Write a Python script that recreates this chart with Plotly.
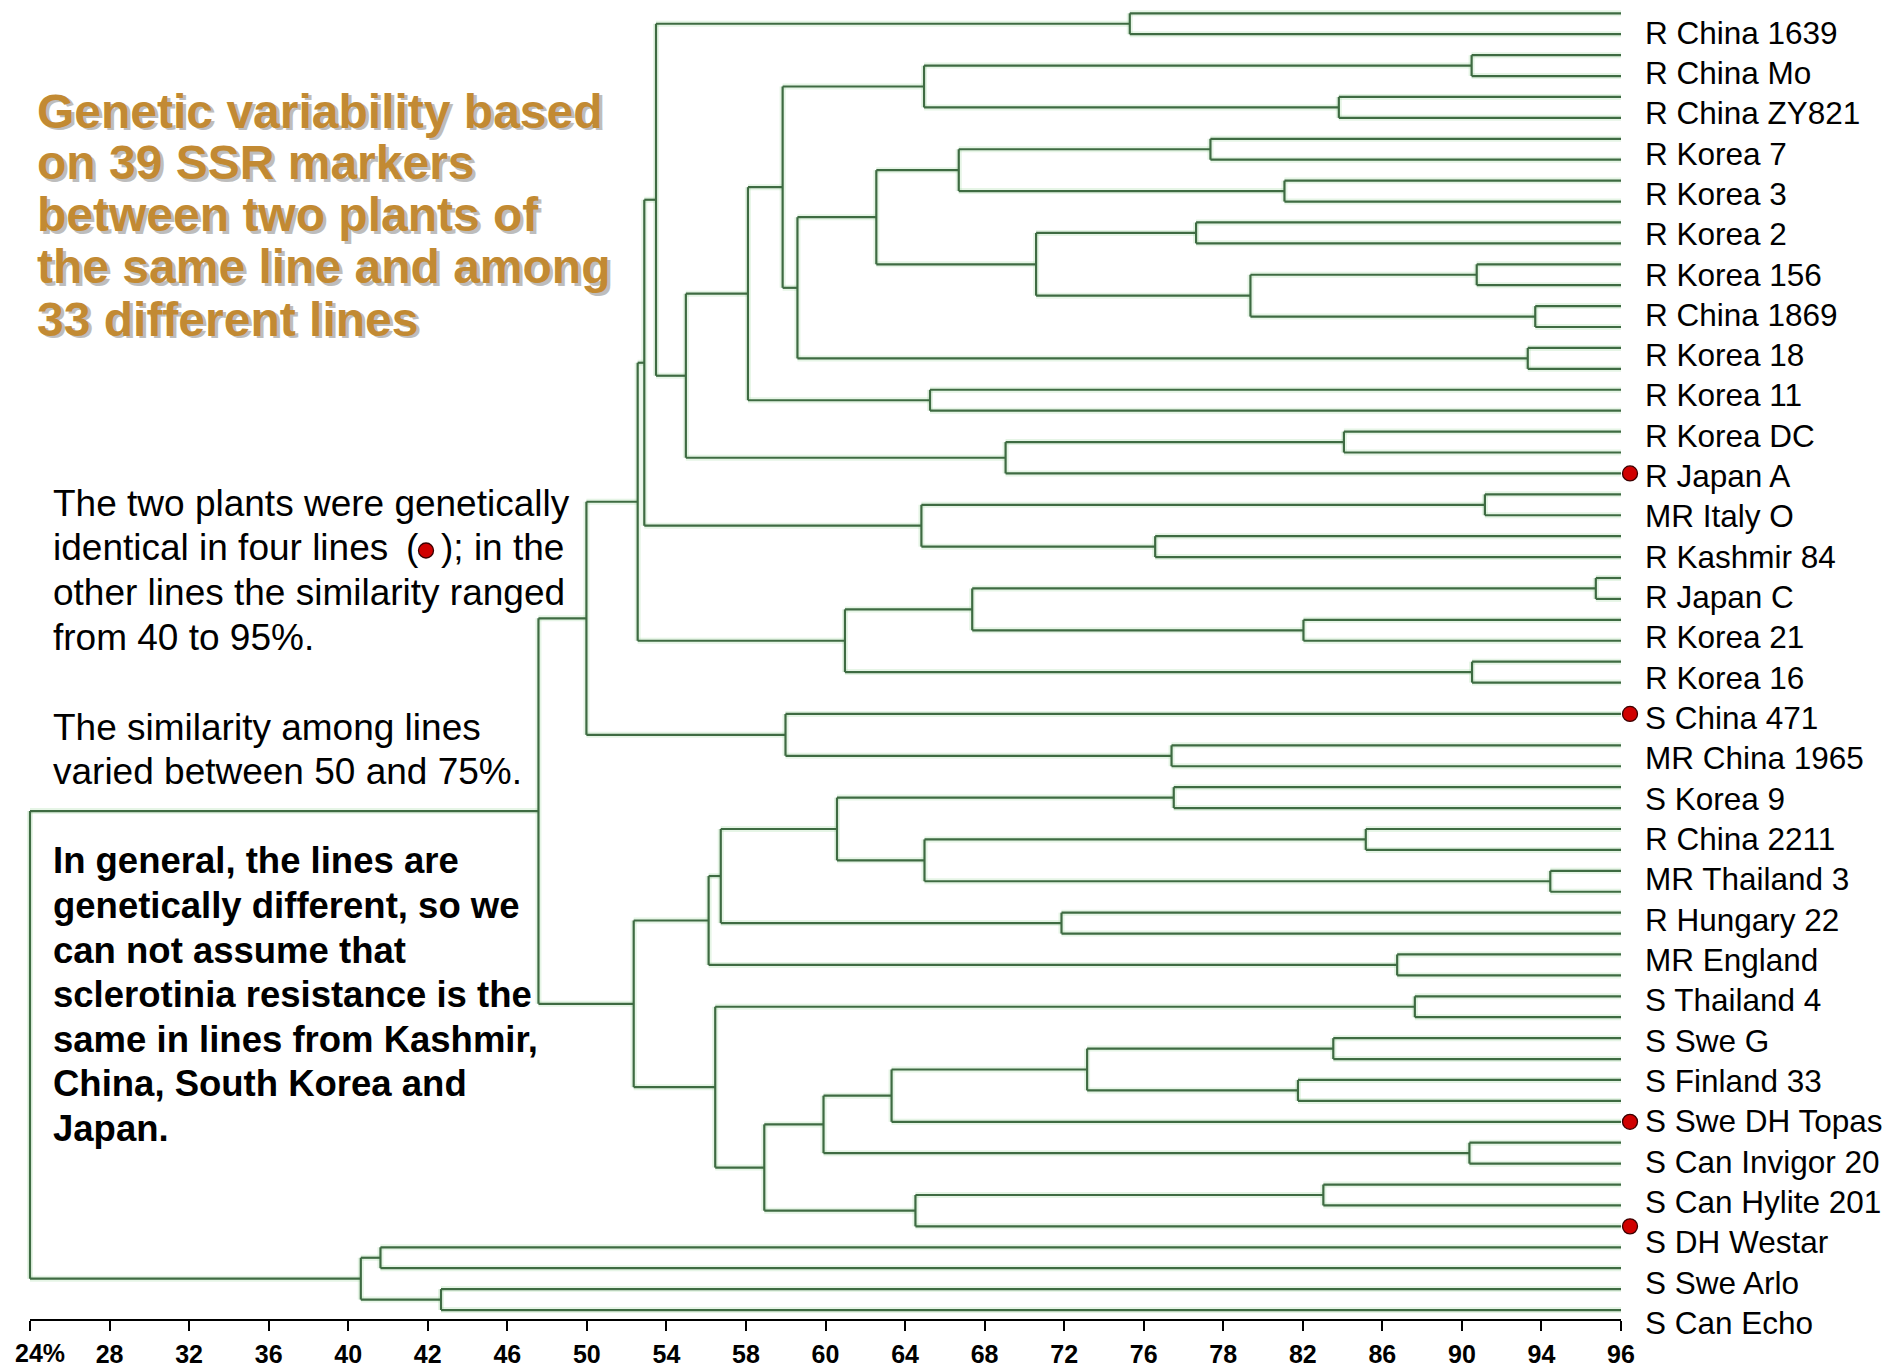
import plotly.graph_objects as go

W, H = 1893, 1369

# ---------------- data ----------------
line_names = [
    "R China 1639", "R China Mo", "R China ZY821", "R Korea 7", "R Korea 3",
    "R Korea 2", "R Korea 156", "R China 1869", "R Korea 18", "R Korea 11",
    "R Korea DC", "R Japan A", "MR Italy O", "R Kashmir 84", "R Japan C",
    "R Korea 21", "R Korea 16", "S China 471", "MR China 1965", "S Korea 9",
    "R China 2211", "MR Thailand 3", "R Hungary 22", "MR England", "S Thailand 4",
    "S Swe G", "S Finland 33", "S Swe DH Topas", "S Can Invigor 20",
    "S Can Hylite 201", "S DH Westar", "S Swe Arlo", "S Can Echo",
]
# similarity between the two plants of a line (None = genetically identical)
pair_similarity = [
    73.77, 89.24, 83.23, 77.42, 80.77,
    76.77, 89.47, 92.12, 91.78, 64.73,
    83.46, None, 89.84, 74.92, 94.86,
    81.63, 89.26, None, 75.66, 75.76,
    84.45, 92.80, 70.68, 85.87, 86.67,
    82.98, 81.38, None, 89.14,
    82.53, None, 39.86, 42.60,
]
# number of leaf rows each line takes in the tree
leaf_rows = [
    2, 2, 2, 2, 2,
    2, 2, 2, 2, 2,
    2, 1, 2, 2, 2,
    2, 2, 2, 2, 2,
    2, 2, 2, 2, 2,
    2, 2, 1, 2,
    2, 1, 2, 2,
]
# clusters among lines: (child A, child B, similarity); ints refer to earlier clusters
merges = [
    ("R China Mo", "R China ZY821", 64.46),      # 0
    ("R Korea 7", "R Korea 3", 66.03),           # 1
    ("R Korea 156", "R China 1869", 79.23),      # 2
    ("R Korea 2", 2, 69.53),                     # 3
    (1, 3, 62.30),                               # 4
    (4, "R Korea 18", 58.73),                    # 5
    (0, 5, 58.06),                               # 6
    (6, "R Korea 11", 56.49),                    # 7
    ("R Korea DC", "R Japan A", 68.15),          # 8
    (7, 8, 53.68),                               # 9
    ("R China 1639", 9, 52.33),                  # 10
    ("MR Italy O", "R Kashmir 84", 64.34),       # 11
    (10, 11, 51.80),                             # 12
    ("R Japan C", "R Korea 21", 66.64),          # 13
    (13, "R Korea 16", 60.88),                   # 14
    (12, 14, 51.50),                             # 15
    ("S China 471", "MR China 1965", 58.19),     # 16
    (15, 16, 49.18),                             # 17
    ("R China 2211", "MR Thailand 3", 64.48),    # 18
    ("S Korea 9", 18, 60.52),                    # 19
    (19, "R Hungary 22", 55.26),                 # 20
    (20, "MR England", 54.71),                   # 21
    ("S Swe G", "S Finland 33", 71.84),          # 22
    (22, "S Swe DH Topas", 62.99),               # 23
    (23, "S Can Invigor 20", 59.91),             # 24
    ("S Can Hylite 201", "S DH Westar", 64.07),  # 25
    (24, 25, 57.23),                             # 26
    ("S Thailand 4", 26, 55.01),                 # 27
    (21, 27, 51.32),                             # 28
    (17, 28, 47.01),                             # 29
    ("S Swe Arlo", "S Can Echo", 38.97),         # 30
    (29, 30, 24.00),                             # 31
]
tick_values = [24, 27.6, 31.2, 34.8, 38.4, 42, 45.6, 49.2, 52.8, 56.4, 60,
               63.6, 67.2, 70.8, 74.4, 78, 81.6, 85.2, 88.8, 92.4, 96]
tick_labels = ["24%", "28", "32", "36", "40", "42", "46", "50", "54", "58", "60",
               "64", "68", "72", "76", "78", "82", "86", "90", "94", "96"]
X_MIN, X_MAX = 24, 96

title_lines = ["Genetic variability based", "on 39 SSR markers",
               "between two plants of", "the same line and among",
               "33 different lines"]
note1_lines = ["The two plants were genetically", None,
               "other lines the similarity ranged", "from 40 to 95%."]
note2_lines = ["The similarity among lines", "varied between 50 and 75%."]
note3_lines = ["In general, the lines are", "genetically different, so we",
               "can not assume that", "sclerotinia resistance is the",
               "same in lines from Kashmir,", "China, South Korea and", "Japan."]

# ---------------- geometry ----------------
AX_L, AX_R, AX_B = 30, 1621, 1320          # pixel frame of the tree
ROW0_PX, ROW_PX = 13.3, 20.915             # first leaf row & row spacing
UNIT_PX = (AX_R - AX_L) / (X_MAX - X_MIN)
y_top = -ROW0_PX / ROW_PX
y_bot = y_top + AX_B / ROW_PX

def px_x(px):
    return X_MIN + (px - AX_L) / UNIT_PX

def px_y(py):
    return (py - ROW0_PX) / ROW_PX

# ---------------- build the tree ----------------
xs, ys = [], []

def seg(x0, y0, x1, y1):
    xs.extend([x0, x1, None])
    ys.extend([y0, y1, None])

pos = {}
dot_rows = []
row = 0
for name, ps, n in zip(line_names, pair_similarity, leaf_rows):
    yc = row + (n - 1) / 2
    if ps is None:
        pos[name] = (X_MAX, yc)
        dot_rows.append(yc)
    else:
        ya, yb = row, row + 1
        seg(ps, ya, X_MAX, ya)
        seg(ps, yb, X_MAX, yb)
        seg(ps, ya, ps, yb)
        pos[name] = (ps, (ya + yb) / 2)
    row += n

for i, (a, b, s) in enumerate(merges):
    xa, ya = pos[a]
    xb, yb = pos[b]
    seg(s, ya, xa, ya)
    seg(s, yb, xb, yb)
    seg(s, ya, s, yb)
    pos[i] = (s, (ya + yb) / 2)

fig = go.Figure()
fig.add_trace(go.Scatter(x=xs, y=ys, mode="lines", hoverinfo="skip",
                         line=dict(color="rgba(140,210,140,0.22)", width=6),
                         showlegend=False))
fig.add_trace(go.Scatter(x=xs, y=ys, mode="lines", hoverinfo="skip",
                         line=dict(color="#3E6B42", width=2.2),
                         showlegend=False))

# red dots for identical plants + legend dot in the text
dot_x = [X_MAX + 9 / UNIT_PX] * len(dot_rows) + [px_x(426)]
dot_y = dot_rows + [px_y(550.5)]
fig.add_trace(go.Scatter(x=dot_x, y=dot_y, mode="markers", hoverinfo="skip",
                         marker=dict(size=15, color="#D00000",
                                     line=dict(color="#3A0000", width=1.3)),
                         showlegend=False))

# similarity axis line (only between 24% and 96)
fig.add_shape(type="line", xref="x", yref="y domain", x0=X_MIN, x1=X_MAX,
              y0=0, y1=0, line=dict(color="black", width=2))

FONT = "Liberation Sans, Arial, sans-serif"
ann = []

def text(px, py, t, size, color="black", bold=False, anchor="left"):
    ann.append(dict(x=px / W, y=1 - py / H, xref="paper", yref="paper",
                    xanchor=anchor, yanchor="middle", showarrow=False,
                    text=t, font=dict(family=FONT, size=size, color=color,
                                      weight="bold" if bold else "normal")))

# leaf labels
LAB0_PX, LAB_STEP_PX = 32.6, 40.32
for i, name in enumerate(line_names):
    text(1643, LAB0_PX + LAB_STEP_PX * i, name, 31.5)

# title with shadow
for i, t in enumerate(title_lines):
    text(35 + 2.5, 111 + 52 * i + 2.5, t, 48, color="#BDBDBD", bold=True)
    text(35, 111 + 52 * i, t, 48, color="#C28A33", bold=True)

# notes
for i, t in enumerate(note1_lines):
    py = 503 + 44.8 * i
    if t is None:
        text(51, py, "identical in four lines", 37)
        text(404, py, "(", 37)
        text(439, py, "); in the", 37)
    else:
        text(51, py, t, 37)
for i, t in enumerate(note2_lines):
    text(51, 727 + 44.5 * i, t, 37)
for i, t in enumerate(note3_lines):
    text(51, 861 + 44.5 * i, t, 36.5, bold=True)

# first tick label sits to the right of its tick
ann.append(dict(x=13 / W, y=1 - 1353 / H, xref="paper", yref="paper",
                xanchor="left", yanchor="middle", showarrow=False,
                text=tick_labels[0],
                font=dict(family=FONT, size=25, color="black", weight="bold")))

fig.update_layout(
    width=W, height=H,
    margin=dict(l=0, r=0, t=0, b=0, autoexpand=False),
    paper_bgcolor="white", plot_bgcolor="white",
    annotations=ann,
    xaxis=dict(domain=[0, 1], range=[px_x(0), px_x(W)],
               automargin=False, showgrid=False, zeroline=False,
               showline=False,
               ticks="outside", ticklen=10, tickcolor="black", tickwidth=1.5,
               tickvals=tick_values, ticktext=[""] + tick_labels[1:],
               ticklabelstandoff=2,
               tickfont=dict(family=FONT, size=25, color="black", weight="bold")),
    yaxis=dict(domain=[1 - AX_B / H, 1], range=[y_bot, y_top],
               automargin=False, visible=False, showgrid=False, zeroline=False),
)

fig.write_html(
    "out.html",
    config={"displayModeBar": False},
    post_script="document.body.style.margin='0';"
                "document.body.style.overflow='hidden';",
)
